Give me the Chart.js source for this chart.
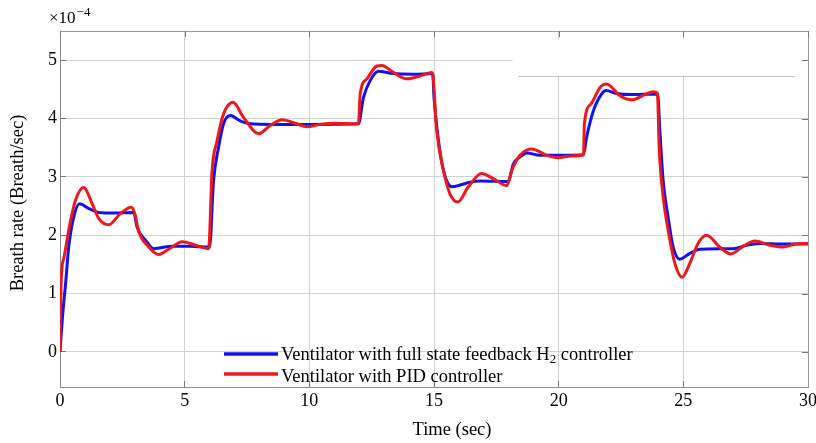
<!DOCTYPE html>
<html>
<head>
<meta charset="utf-8">
<title>Breath rate</title>
<script src="https://cdn.jsdelivr.net/npm/chart.js@4.4.1/dist/chart.umd.min.js"></script>
<style>
    html, body { margin: 0; padding: 0; background: #fff; }
    #wrap { width: 816px; height: 443px; }
</style>
</head>
<body>
<div id="wrap"><canvas id="chart" width="816" height="443"></canvas></div>
<script>
// ---- data (breath rate in units of 1e-4 breath/sec) ----
const xTicks = [0, 5, 10, 15, 20, 25, 30];
const yTicks = [0, 1, 2, 3, 4, 5];

const h2Time = [0, 0.1, 0.22, 0.35, 0.55, 0.78, 1.15, 1.55, 2.2, 2.96, 3.09, 3.42, 3.76, 4.09, 4.5, 5.2, 6.0,
    6.16, 6.36, 6.56, 6.83, 7.23, 7.63, 8.5, 10, 11.97, 12.17, 12.44, 12.77, 13.37, 14.17, 14.95,
    15.0, 15.18, 15.38, 15.71, 16.05, 16.45, 16.85, 17.98, 18.18, 18.45, 18.72, 19.25, 20, 20.99,
    21.12, 21.39, 21.72, 21.9, 22.32, 22.86, 23.97, 24.06, 24.19, 24.39, 24.59, 24.86, 25.26, 25.66,
    26.46, 27.0, 27.53, 28.07, 29, 30];
const h2Rate = [0, 0.6, 1.15, 1.8, 2.31, 2.54, 2.46, 2.39, 2.38, 2.39, 2.14, 1.92, 1.77, 1.79, 1.81, 1.81, 1.80,
    2.94, 3.51, 3.91, 4.05, 3.96, 3.91, 3.90, 3.90, 3.91, 4.36, 4.65, 4.81, 4.77, 4.76, 4.77,
    4.36, 3.62, 3.11, 2.83, 2.86, 2.91, 2.93, 2.92, 3.22, 3.34, 3.41, 3.37, 3.37, 3.38,
    3.68, 4.13, 4.42, 4.48, 4.43, 4.41, 4.42, 3.79, 2.94, 2.31, 1.80, 1.59, 1.69, 1.76,
    1.77, 1.77, 1.83, 1.86, 1.85, 1.85];

const pidTime = [0, 0.05, 0.15, 0.4, 0.62, 0.95, 1.29, 1.55, 1.96, 2.42, 2.86, 3.0, 3.16, 3.56, 3.96, 4.36, 4.9,
    5.43, 5.96, 6.1, 6.3, 6.56, 6.94, 7.36, 7.97, 8.43, 8.9, 9.5, 9.9, 10.44, 10.97, 11.97,
    12.04, 12.31, 12.71, 12.91, 13.37, 13.91, 14.44, 14.93, 15.11, 15.38, 15.64, 15.95, 16.38, 16.91,
    17.38, 17.92, 18.12, 18.45, 18.92, 19.52, 19.98, 20.5, 21.0, 21.03, 21.28, 21.69, 21.92, 22.46,
    22.92, 23.46, 23.79, 23.96, 24.03, 24.19, 24.39, 24.66, 24.95, 25.26, 25.59, 25.93, 26.46, 26.9,
    27.4, 27.87, 28.47, 29.0, 29.5, 30];
const pidRate = [0, 1.25, 1.6, 2.2, 2.6, 2.82, 2.54, 2.29, 2.18, 2.37, 2.48, 2.37, 2.06, 1.80, 1.67, 1.76, 1.89,
    1.83, 1.77, 3.11, 3.62, 4.08, 4.28, 4.02, 3.74, 3.88, 3.98, 3.91, 3.86, 3.90, 3.92, 3.91,
    4.42, 4.68, 4.90, 4.91, 4.79, 4.68, 4.73, 4.79, 3.79, 3.11, 2.71, 2.57, 2.83, 3.06,
    2.97, 2.85, 3.11, 3.37, 3.48, 3.37, 3.33, 3.36, 3.38, 3.9, 4.24, 4.55, 4.59, 4.39,
    4.32, 4.41, 4.46, 4.44, 3.51, 2.66, 2.09, 1.52, 1.28, 1.52, 1.86, 2.00, 1.80, 1.68,
    1.81, 1.90, 1.83, 1.80, 1.85, 1.86];

const h2Label = ['Ventilator with full state feedback H', '2', ' controller'];
const pidLabel = 'Ventilator with PID controller';

const BLUE = 'rgb(18, 18, 238)';
const RED = 'rgb(238, 24, 28)';
const SERIF = '"Liberation Serif", "Times New Roman", serif';

const toPoints = (xs, ys) => xs.map((x, i) => ({ x: x, y: ys[i] }));

// frame, exponent, axis titles, legend and the blank patch from the source figure
const decor = {
    id: 'decor',
    beforeDatasetsDraw(chart) {
        const { ctx, scales: { x, y } } = chart;
        ctx.save();
        const l = x.getPixelForValue(18.15), r = x.getPixelForValue(29.93);
        const t = y.getPixelForValue(5.36), b = y.getPixelForValue(4.75);
        ctx.fillStyle = '#fff';
        ctx.fillRect(l, t, r - l, b - t);
        const ly = Math.round(y.getPixelForValue(4.73)) + 0.5;
        ctx.strokeStyle = '#c4c4c4';
        ctx.lineWidth = 1;
        ctx.beginPath();
        ctx.moveTo(x.getPixelForValue(18.37), ly);
        ctx.lineTo(x.getPixelForValue(29.47), ly);
        ctx.stroke();
        ctx.restore();
    },
    afterDraw(chart) {
        const { ctx, chartArea: a, scales: { x, y } } = chart;
        ctx.save();

        // top and right box lines with inward ticks
        ctx.strokeStyle = '#9a9a9a';
        ctx.lineWidth = 1;
        ctx.beginPath();
        ctx.moveTo(a.left, a.top + 0.5);
        ctx.lineTo(a.right + 0.5, a.top + 0.5);
        ctx.lineTo(a.right + 0.5, a.bottom);
        ctx.stroke();
        ctx.strokeStyle = '#777';
        ctx.beginPath();
        xTicks.forEach(v => {
            const px = Math.round(x.getPixelForValue(v)) + 0.5;
            ctx.moveTo(px, a.top);
            ctx.lineTo(px, a.top + 6);
        });
        yTicks.forEach(v => {
            const py = Math.round(y.getPixelForValue(v)) + 0.5;
            ctx.moveTo(a.right, py);
            ctx.lineTo(a.right - 6, py);
        });
        ctx.stroke();

        ctx.fillStyle = '#000';
        ctx.textBaseline = 'alphabetic';

        // exponent
        ctx.font = '17px ' + SERIF;
        ctx.textAlign = 'left';
        ctx.fillText('\u00d710', 49, 23);
        const w10 = ctx.measureText('\u00d710').width;
        ctx.font = '13px ' + SERIF;
        ctx.fillText('\u22124', 49 + w10 + 1, 16);

        // axis titles
        ctx.font = '18.5px ' + SERIF;
        ctx.textAlign = 'center';
        ctx.textBaseline = 'middle';
        ctx.fillText('Time (sec)', 452, 430);
        ctx.save();
        ctx.translate(18, 203);
        ctx.rotate(-Math.PI / 2);
        ctx.fillText('Breath rate (Breath/sec)', 0, 0);
        ctx.restore();

        // legend
        ctx.textAlign = 'left';
        ctx.textBaseline = 'alphabetic';
        ctx.lineWidth = 3.5;
        ctx.strokeStyle = BLUE;
        ctx.beginPath();
        ctx.moveTo(224, 354);
        ctx.lineTo(278, 354);
        ctx.stroke();
        ctx.strokeStyle = RED;
        ctx.beginPath();
        ctx.moveTo(224, 374);
        ctx.lineTo(278, 374);
        ctx.stroke();

        let tx = 281;
        ctx.font = '18.5px ' + SERIF;
        ctx.fillText(h2Label[0], tx, 360);
        tx += ctx.measureText(h2Label[0]).width;
        ctx.font = '13px ' + SERIF;
        ctx.fillText(h2Label[1], tx, 363);
        tx += ctx.measureText(h2Label[1]).width;
        ctx.font = '18.5px ' + SERIF;
        ctx.fillText(h2Label[2], tx, 360);
        ctx.fillText(pidLabel, 281, 382);

        ctx.restore();
    }
};

new Chart(document.getElementById('chart'), {
    type: 'line',
    data: {
        datasets: [
            {
                label: h2Label.join(''),
                data: toPoints(h2Time, h2Rate),
                borderColor: BLUE,
                borderWidth: 3,
                pointRadius: 0,
                cubicInterpolationMode: 'monotone',
                order: 1
            },
            {
                label: pidLabel,
                data: toPoints(pidTime, pidRate),
                borderColor: RED,
                borderWidth: 3,
                pointRadius: 0,
                cubicInterpolationMode: 'monotone',
                order: 0
            }
        ]
    },
    options: {
        responsive: false,
        animation: false,
        layout: {
            padding: { top: 31, right: 8, left: 0, bottom: 0 }
        },
        plugins: {
            legend: { display: false },
            tooltip: { enabled: false }
        },
        scales: {
            x: {
                type: 'linear',
                min: 0,
                max: 30,
                afterBuildTicks: s => { s.ticks = xTicks.map(v => ({ value: v })); },
                afterFit: s => { s.height = 56; s.paddingLeft = 0; s.paddingRight = 0; },
                ticks: {
                    color: '#000',
                    font: { family: SERIF, size: 18 },
                    padding: 9,
                    maxRotation: 0
                },
                grid: {
                    color: '#d2d2d2',
                    tickLength: -6,
                    tickColor: '#777'
                },
                border: { color: '#8a8a8a' }
            },
            y: {
                type: 'linear',
                min: -0.6,
                max: 5.5,
                afterBuildTicks: s => { s.ticks = yTicks.map(v => ({ value: v })); },
                afterFit: s => { s.width = 60; s.paddingTop = 0; s.paddingBottom = 0; },
                ticks: {
                    color: '#000',
                    font: { family: SERIF, size: 18 },
                    padding: 9
                },
                grid: {
                    color: '#d2d2d2',
                    tickLength: -6,
                    tickColor: '#777'
                },
                border: { color: '#8a8a8a' }
            }
        }
    },
    plugins: [decor]
});
</script>
</body>
</html>
